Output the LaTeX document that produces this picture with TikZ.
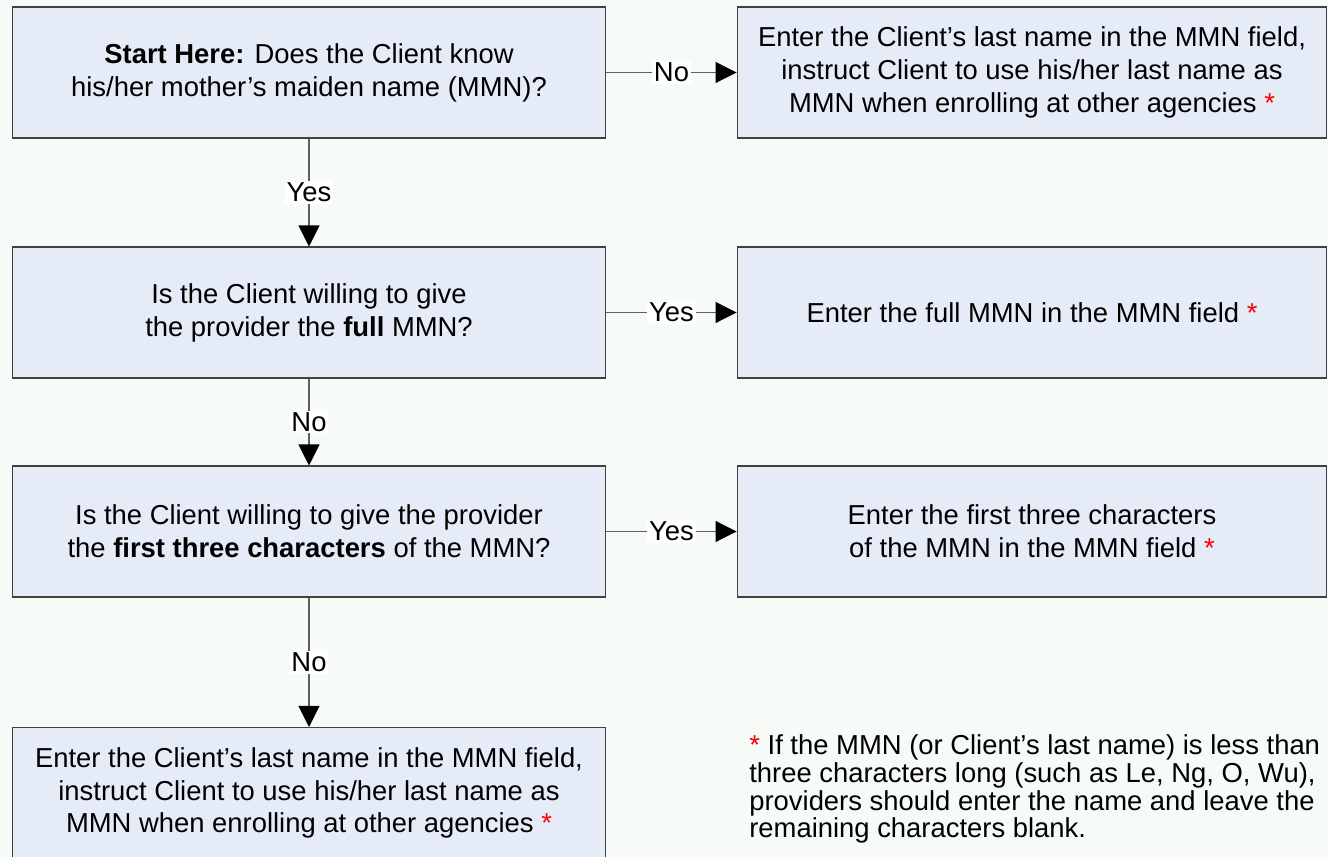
\documentclass[tikz,border=0pt]{standalone}
\usepackage{fontspec}
\setmainfont{Liberation Sans}
\usetikzlibrary{arrows.meta}

\definecolor{boxfill}{RGB}{230,236,247}
\definecolor{boxline}{RGB}{64,64,64}
\definecolor{linegray}{RGB}{96,96,96}
\definecolor{bgtint}{RGB}{246,251,248}

\newcommand{\boxfont}{\fontsize{15.6}{18.7}\selectfont}
\newcommand{\notefont}{\fontsize{15.6}{15.9}\selectfont}
\newcommand{\redstar}{\textcolor{red}{*}}

\tikzset{
  stepbox/.style={draw=boxline, fill=boxfill, line width=0.6pt, inner sep=0pt,
                  align=center, font=\boxfont},
  leftbox/.style={stepbox, minimum width=11.88cm, minimum height=2.62cm},
  rightbox/.style={stepbox, minimum width=11.8cm, minimum height=2.62cm},
  flow/.style={draw=linegray, line width=0.6pt,
               -{Triangle[length=0.42cm, width=0.42cm, color=black]}},
  answer/.style={fill=white, inner sep=1pt, font=\boxfont},
}

\begin{document}
\begin{tikzpicture}[x=0.02cm, y=-0.02cm]
    \fill[bgtint] (0,0) rectangle (1328,857);
    \useasboundingbox (0,0) rectangle (1328,857);

    % questions
    \node[leftbox] (start) at (309,72.5)
        {\textbf{Start Here:} Does the Client know\\his/her mother’s maiden name (MMN)?};
    \node[leftbox] (full) at (309,312.5)
        {Is the Client willing to give\\the provider the \textbf{full} MMN?};
    \node[leftbox] (three) at (309,531.5)
        {Is the Client willing to give the provider\\the \textbf{first three characters} of the MMN?};
    \node[leftbox] (lastname) at (309,793)
        {Enter the Client’s last name in the MMN field,\\instruct Client to use his/her last name as\\MMN when enrolling at other agencies \redstar};

    % answers
    \node[rightbox] (nomaiden) at (1032,72.5)
        {Enter the Client’s last name in the MMN field,\\instruct Client to use his/her last name as\\MMN when enrolling at other agencies \redstar};
    \node[rightbox] (fullmmn) at (1032,312.5)
        {Enter the full MMN in the MMN field \redstar};
    \node[rightbox] (threechars) at (1032,531.5)
        {Enter the first three characters\\of the MMN in the MMN field \redstar};

    \node[anchor=west, align=left, inner sep=0pt, font=\notefont] (footnote) at (749,789)
        {\redstar{} If the MMN (or Client’s last name) is less than\\three characters long (such as Le, Ng, O, Wu),\\providers should enter the name and leave the\\remaining characters blank.};

    \draw[flow] (start) -- node[answer]{No} (nomaiden);
    \draw[flow] (start) -- node[answer]{Yes} (full);
    \draw[flow] (full) -- node[answer]{Yes} (fullmmn);
    \draw[flow] (full) -- node[answer]{No} (three);
    \draw[flow] (three) -- node[answer]{Yes} (threechars);
    \draw[flow] (three) -- node[answer]{No} (lastname);
\end{tikzpicture}
\end{document}
